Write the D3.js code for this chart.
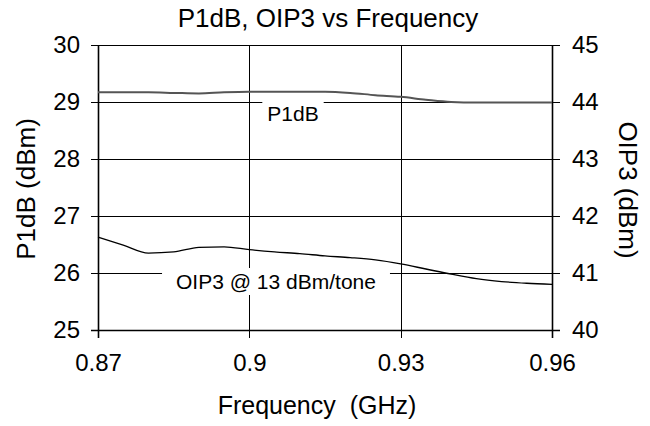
<!DOCTYPE html>
<html><head><meta charset="utf-8">
<script src="https://cdn.jsdelivr.net/npm/d3@7/dist/d3.min.js"></script>
<style>
html,body{margin:0;padding:0;background:#fff;}
text{font-family:"Liberation Sans",Arial,sans-serif;fill:#000;}
</style></head>
<body><svg id="c" width="650" height="426"></svg>
<script>
const freq = [0.870,0.875,0.880,0.885,0.890,0.895,0.900,0.905,0.910,0.915,0.920,0.925,0.930,0.935,0.940,0.945,0.950,0.955,0.960];
const p1db = [29.17,29.17,29.17,29.16,29.15,29.17,29.18,29.18,29.18,29.18,29.16,29.12,29.09,29.04,29.00,28.99,28.99,28.99,28.99];
const oip3 = [41.63,41.49,41.35,41.37,41.45,41.46,41.41,41.37,41.34,41.30,41.27,41.23,41.16,41.07,40.98,40.90,40.85,40.82,40.80];
const xTicks = [0.87,0.90,0.93,0.96];
const xTickLabels = ["0.87","0.9","0.93","0.96"];
const yLeftTicks = [25,26,27,28,29,30];
const yRightTicks = [40,41,42,43,44,45];

const svg = d3.select("#c");
const L=98, R=552, T=45, B=330;
const x = d3.scaleLinear().domain([0.87,0.96]).range([L,R]);
const yL = d3.scaleLinear().domain([25,30]).range([B,T]);
const yR = d3.scaleLinear().domain([40,45]).range([B,T]);

// horizontal gridlines
svg.append("g").selectAll("line").data(yLeftTicks).join("line")
  .attr("x1",91).attr("x2",560)
  .attr("y1",d=>Math.round(yL(d))+0.5).attr("y2",d=>Math.round(yL(d))+0.5)
  .attr("stroke","#000").attr("stroke-width",1);
// vertical gridlines
svg.append("g").selectAll("line").data(xTicks).join("line")
  .attr("x1",d=>Math.round(x(d))+0.5).attr("x2",d=>Math.round(x(d))+0.5)
  .attr("y1",T).attr("y2",338)
  .attr("stroke","#000").attr("stroke-width",d=>(d===0.87||d===0.96)?1.6:1);
// bottom line thicker
svg.append("line").attr("x1",91).attr("x2",560).attr("y1",yL(25)+0.5).attr("y2",yL(25)+0.5)
  .attr("stroke","#000").attr("stroke-width",1.6);

// axes (labels only)
const axL = d3.axisLeft(yL).tickValues(yLeftTicks).tickSize(0).tickPadding(18).tickFormat(d3.format("d"));
const gL = svg.append("g").attr("transform",`translate(${L},0)`).call(axL);
const axR = d3.axisRight(yR).tickValues(yRightTicks).tickSize(0).tickPadding(20).tickFormat(d3.format("d"));
const gR = svg.append("g").attr("transform",`translate(${R},0)`).call(axR);
const axB = d3.axisBottom(x).tickValues(xTicks).tickSize(0).tickPadding(24).tickFormat((d,i)=>xTickLabels[i]);
const gB = svg.append("g").attr("transform",`translate(0,${B})`).call(axB);
[gL,gR,gB].forEach(g=>{g.select(".domain").remove(); g.selectAll("text").style("font-size","24px").attr("fill","#000");});

// lines
const lineL = d3.line().x((d,i)=>x(freq[i])).y(d=>yL(d)).curve(d3.curveMonotoneX);
const lineR = d3.line().x((d,i)=>x(freq[i])).y(d=>yR(d)).curve(d3.curveMonotoneX);
svg.append("path").attr("d",lineL(p1db)).attr("fill","none").attr("stroke","#555").attr("stroke-width",2);
svg.append("path").attr("d",lineR(oip3)).attr("fill","none").attr("stroke","#000").attr("stroke-width",1.3);

// labels with white boxes
function boxLabel(txt, cx, baseline, size, pad){
  const g = svg.append("g");
  const t = g.append("text").attr("x",cx).attr("y",baseline).attr("text-anchor","middle").style("font-size",size+"px").text(txt);
  const bb = t.node().getBBox();
  g.insert("rect","text").attr("x",bb.x-pad).attr("y",bb.y-2).attr("width",bb.width+2*pad).attr("height",bb.height+4).attr("fill","#fff");
}
boxLabel("P1dB", 293, 121, 21, 5);
boxLabel("OIP3 @ 13 dBm/tone", 276, 289, 21, 14);

// title and axis titles
svg.append("text").attr("x",328).attr("y",27).attr("text-anchor","middle").style("font-size","26px").text("P1dB, OIP3 vs Frequency");
svg.append("text").attr("x",317).attr("y",414).attr("text-anchor","middle").style("font-size","25px").style("white-space","pre").attr("xml:space","preserve").text("Frequency  (GHz)");
svg.append("text").attr("transform","translate(35,189) rotate(-90)").attr("text-anchor","middle").style("font-size","26px").text("P1dB (dBm)");
svg.append("text").attr("transform","translate(619,190) rotate(90)").attr("text-anchor","middle").style("font-size","26px").text("OIP3 (dBm)");
</script></body></html>
